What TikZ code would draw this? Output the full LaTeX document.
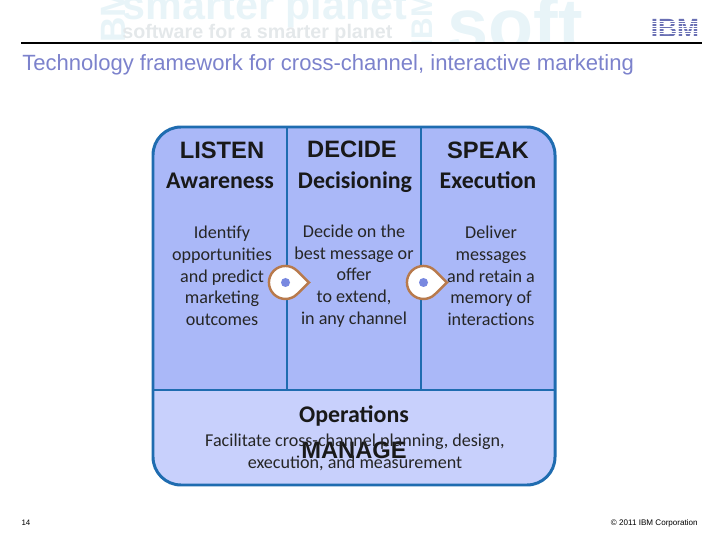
\documentclass[tikz,border=0pt]{standalone}
\usepackage{fontspec}
\setmainfont{Carlito}
\newfontfamily\arialfont{Liberation Sans}
\usetikzlibrary{positioning}

\definecolor{panelblue}{HTML}{AAB8F8}
\definecolor{panellight}{HTML}{C8D0FC}
\definecolor{panelline}{HTML}{1F6CB0}
\definecolor{titleblue}{HTML}{7C82CC}
\definecolor{dropline}{HTML}{B87A4C}
\definecolor{dropdot}{HTML}{7888E0}
\definecolor{washcyan}{HTML}{E8F4F8}
\definecolor{washgray}{HTML}{E4E8EA}
\definecolor{logoblue}{HTML}{6A70B4}

\tikzset{
  headtext/.style={anchor=base, font=\arialfont\bfseries\fontsize{13.5}{15}\selectfont, text=black!90},
  subtext/.style={anchor=base, font=\bfseries\fontsize{13.6}{15}\selectfont, text=black!90},
  bodytext/.style={font=\fontsize{10.3}{12.3}\selectfont, align=center, text=black!85},
  washtext/.style={text=washcyan, inner sep=0pt},
  panelrule/.style={draw=panelline, line width=1.7pt},
  dropmark/.style={draw=dropline, fill=white, line width=1.4pt}
}

\begin{document}
\begin{tikzpicture}[x=0.02cm,y=-0.02cm]
\useasboundingbox (0,0) rectangle (720,540);

% washed out banner
\begin{scope}
\clip (0,0) rectangle (720,42);
\draw (265,9)   node [washtext, font=\arialfont\bfseries\fontsize{23.5}{25}\selectfont] (washplanet) {smarter planet};
\draw (515,24)  node [washtext, font=\arialfont\bfseries\fontsize{42}{44}\selectfont] (washsoft) {soft};
\draw (422,20)  node [washtext, rotate=90, font=\arialfont\bfseries\fontsize{17}{19}\selectfont] (washibma) {IBM};
\draw (113,20)  node [washtext, rotate=90, font=\arialfont\bfseries\fontsize{20}{22}\selectfont] (washibmb) {IBM};
\draw (122,33)  node [washtext, text=washgray, font=\arialfont\bfseries\fontsize{11.2}{13}\selectfont, anchor=west] (washsoftware) {software for a smarter planet};
\end{scope}
\draw[line width=0.6pt] (21,43) -- (702,43);

\draw (675,28) node [font=\arialfont\bfseries\fontsize{15}{16}\selectfont, text=logoblue, inner sep=0pt] (ibmlogo) {IBM};
\foreach \ypos in {21,23.5,...,36} {
  \fill[white] (650,\ypos) rectangle (700,\ypos+0.8);
}

\draw (22,65) node [anchor=west, inner sep=0pt, font=\arialfont\fontsize{12.55}{15}\selectfont, text=titleblue] (title) {Technology framework for cross-channel, interactive marketing};

% panel
\fill[panelblue] (153,390) -- (153,155) arc (180:270:28) -- (527,127) arc (270:360:28) -- (555,390) -- cycle;
\fill[panellight] (153,390) -- (555,390) -- (555,457) arc (0:90:28) -- (181,485) arc (90:180:28) -- cycle;
\draw[panelrule] (153,155) arc (180:270:28) -- (527,127) arc (270:360:28) -- (555,457) arc (0:90:28) -- (181,485) arc (90:180:28) -- cycle;
\draw[panelrule] (287,127) -- (287,390);
\draw[panelrule] (421,127) -- (421,390);
\draw[panelrule] (153,390) -- (555,390);

\draw (222,159) node [headtext] (listen) {LISTEN};
\draw (352,158) node [headtext] (decide) {DECIDE};
\draw (488,159) node [headtext] (speak) {SPEAK};

\draw (220,188.5) node [subtext] (awareness) {Awareness};
\draw (355,188.5) node [subtext] (decisioning) {Decisioning};
\draw (488,188.5) node [subtext] (execution) {Execution};

\draw (222,276) node [bodytext] (listenbody) {Identify\\opportunities\\and predict\\marketing\\outcomes};
\draw (354,276) node [bodytext] (decidebody) {Decide on the\\best message or\\offer\\to extend,\\in any channel};
\draw (491,276) node [bodytext] (speakbody) {Deliver\\messages\\and retain a\\memory of\\interactions};

% markers
\foreach \cx/\name in {285.5/dropa, 423.5/dropb} {
  \draw[dropmark] (\cx+23.5,282.5) -- (\cx+11.6,270.8) arc (-45:-315:16.5) -- cycle;
  \fill[dropdot] (\cx,282.5) circle (4.5);
}

\draw (354,422) node [subtext] (operations) {Operations};
\draw (354,459) node [headtext] (manage) {MANAGE};
\draw (355,452) node [bodytext, font=\fontsize{10.3}{12.6}\selectfont] (managebody) {Facilitate cross-channel planning, design,\\execution, and measurement};

\draw (26,523) node [font=\arialfont\fontsize{4.5}{5}\selectfont] (pagenum) {14};
\draw (698,523) node [anchor=east, inner sep=0pt, font=\arialfont\fontsize{4.6}{5}\selectfont] (copyright) {© 2011 IBM Corporation};

\end{tikzpicture}
\end{document}
